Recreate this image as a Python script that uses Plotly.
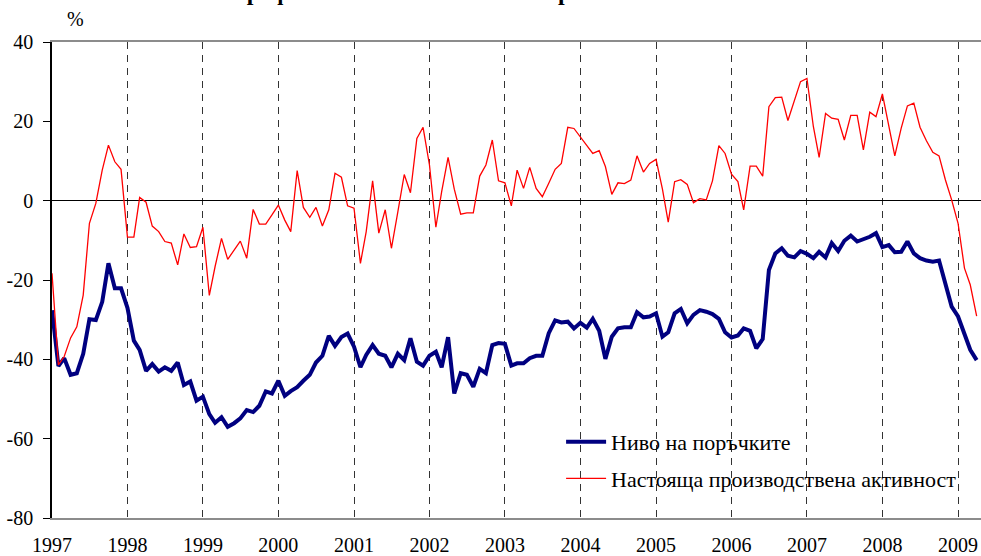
import pandas as pd
import plotly.graph_objects as go

# Monthly data, January 1997 - April 2009
months = pd.date_range("1997-01-01", periods=148, freq="MS")

orders_level = [
    -27.6, -41.7, -39.7, -43.9, -43.5, -38.6, -29.9, -30.1, -25.5, -15.8, -22.1, -22.1,
    -27.0, -35.3, -37.6, -42.9, -41.2, -43.1, -42.0, -42.9, -40.8, -46.5, -45.6, -50.4,
    -49.4, -53.8, -56.0, -54.6, -57.0, -56.1, -54.9, -52.8, -53.3, -51.7, -48.1, -48.6,
    -45.4, -49.2, -48.0, -47.0, -45.4, -43.9, -40.8, -39.1, -34.1, -36.6, -34.4, -33.5,
    -36.8, -42.0, -38.9, -36.4, -38.6, -39.1, -42.0, -38.6, -40.2, -34.7, -40.6, -41.6,
    -39.1, -38.1, -42.0, -34.4, -48.6, -43.5, -43.9, -46.9, -42.4, -43.5, -36.4, -35.9,
    -36.1, -41.6, -41.0, -41.0, -39.7, -39.1, -39.1, -33.4, -30.2, -30.7, -30.5, -32.2,
    -30.8, -32.0, -29.8, -32.8, -39.9, -34.3, -32.2, -31.9, -31.9, -28.1, -29.4, -29.2,
    -28.4, -34.3, -33.2, -28.4, -27.3, -30.9, -28.8, -27.6, -28.0, -28.6, -29.8, -33.2,
    -34.5, -34.0, -32.2, -32.8, -37.2, -34.9, -17.5, -13.3, -12.0, -13.9, -14.3, -12.7,
    -13.4, -14.5, -12.9, -14.3, -10.7, -12.7, -10.1, -8.8, -10.3, -9.7, -9.1, -8.2,
    -11.7, -11.2, -13.0, -12.9, -10.3, -13.3, -14.5, -15.1, -15.4, -15.1, -20.8, -26.7,
    -29.2, -33.4, -37.6, -40.2,
]

current_activity = [
    -18.3, -41.4, -39.3, -34.6, -31.8, -23.8, -5.7, -0.7, 7.7, 14.0, 9.8, 7.9,
    -9.2, -9.2, 0.8, -0.4, -6.4, -7.8, -10.3, -10.7, -16.2, -8.4, -11.8, -11.6,
    -6.7, -23.9, -16.6, -9.5, -14.8, -12.4, -10.2, -14.5, -2.2, -5.9, -5.9, -3.6,
    -1.1, -4.9, -7.8, 7.6, -1.7, -4.2, -1.7, -6.4, -2.3, 6.9, 5.9, -1.3,
    -1.9, -15.8, -7.8, 5.0, -8.2, -2.3, -12.0, -2.8, 6.6, 2.0, 15.7, 18.5,
    9.0, -6.7, 2.3, 10.9, 2.9, -3.4, -3.1, -3.1, 6.2, 9.0, 15.3, 5.0,
    4.5, -1.3, 7.7, 3.1, 8.4, 3.1, 1.0, 4.4, 7.9, 9.4, 18.5, 18.2,
    16.1, 14.0, 11.9, 12.6, 8.6, 1.6, 4.5, 4.3, 5.2, 11.3, 7.2, 9.4,
    10.4, 2.9, -5.4, 4.8, 5.3, 4.1, -0.5, 0.5, 0.2, 5.0, 13.9, 11.9,
    6.7, 4.8, -2.3, 8.7, 8.7, 6.2, 23.7, 26.0, 26.1, 20.2, 25.2, 30.0,
    30.8, 18.7, 10.9, 22.0, 20.8, 20.5, 15.3, 21.5, 21.5, 12.8, 22.3, 21.2,
    26.9, 18.7, 11.3, 18.3, 23.9, 24.6, 18.5, 15.1, 12.2, 11.3, 5.2, 0.2,
    -5.7, -17.0, -21.2, -29.1,
]

year_labels = [str(y) for y in range(1997, 2010)]
year_ticks = [f"{y}-01-01" for y in range(1997, 2010)]
y_ticks = [40, 20, 0, -20, -40, -60, -80]

name_orders = "Ниво на поръчките"
name_activity = "Настояща производствена активност"
title_text = "Графика 3. Бизнес климат в промишлеността"

FONT = "Liberation Serif"

fig = go.Figure()
fig.add_trace(go.Scatter(
    x=months, y=orders_level, mode="lines", name=name_orders,
    line=dict(color="#000080", width=4), legendgroup="a",
))
fig.add_trace(go.Scatter(
    x=months, y=current_activity, mode="lines", name=name_activity,
    line=dict(color="#FF0000", width=1.3), legendgroup="b",
))

fig.update_layout(
    width=981, height=556,
    margin=dict(l=52, r=0, t=42, b=38, autoexpand=False),
    paper_bgcolor="white", plot_bgcolor="white",
    font=dict(family=FONT, size=20, color="black"),
    showlegend=True,
    legend=dict(
        x=0.548, y=0.204, xanchor="left", yanchor="top",
        bgcolor="rgba(0,0,0,0)", borderwidth=0,
        font=dict(family=FONT, size=22, color="black"),
        tracegroupgap=5, itemwidth=40,
    ),
    xaxis=dict(
        range=["1997-01-01", "2009-04-22"],
        automargin=False,
        tickmode="array", tickvals=year_ticks, ticktext=year_labels,
        showgrid=True, gridcolor="#333333", gridwidth=1, griddash="7px,6px",
        showline=True, linecolor="#8c8c8c", linewidth=2, mirror=True,
        ticks="", ticklabelstandoff=8,
        tickfont=dict(family=FONT, size=20, color="black"),
        zeroline=False,
    ),
    yaxis=dict(
        range=[-80, 40],
        automargin=False,
        tickmode="array", tickvals=y_ticks, ticktext=[str(v) for v in y_ticks],
        showgrid=False,
        zeroline=True, zerolinecolor="black", zerolinewidth=1,
        showline=True, linecolor="black", linewidth=1.5,
        ticks="outside", ticklen=7, tickcolor="black", tickwidth=1,
        ticklabelstandoff=6,
        tickfont=dict(family=FONT, size=20, color="black"),
    ),
    annotations=[
        dict(text="%", xref="paper", yref="paper", x=0.025, y=1.021,
             xanchor="center", yanchor="bottom", showarrow=False,
             font=dict(family=FONT, size=20, color="black")),
        dict(text=f"<b>{title_text}</b>", xref="paper", yref="paper",
             x=0.462, y=1.0745, xanchor="center", yanchor="bottom", showarrow=False,
             font=dict(family=FONT, size=24, color="black")),
    ],
)

fig.write_html(
    "out.html",
    config={"displayModeBar": False},
    post_script="document.body.style.margin='0';document.body.style.padding='0';",
)
